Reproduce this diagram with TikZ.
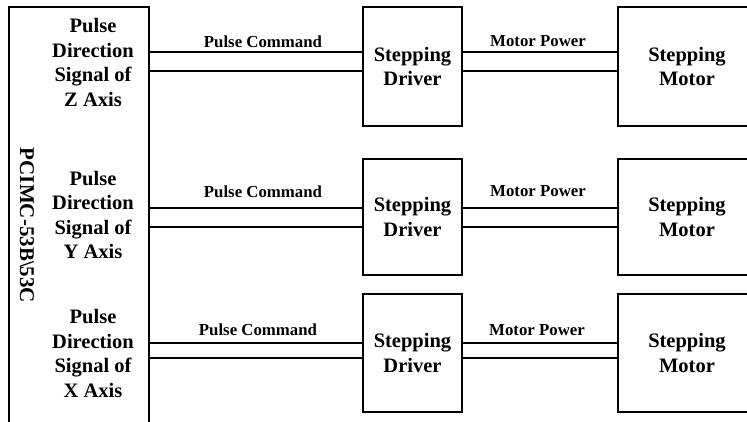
\documentclass[tikz,border=0pt]{standalone}
\usepackage{fontspec}
\setmainfont{Liberation Serif}
\begin{document}
\begin{tikzpicture}[x=1pt,y=-1pt,
  box/.style={draw,line width=1.9pt,rectangle,inner sep=0pt,align=center,
    font=\bfseries\fontsize{20.5}{24.5}\selectfont},
  txt/.style={align=center,inner sep=0pt,font=\bfseries\fontsize{20.5}{24.5}\selectfont},
  lbl/.style={inner sep=0pt,font=\bfseries\fontsize{16.8}{19}\selectfont},
  wire/.style={line width=1.9pt}]
\useasboundingbox (0,0) rectangle (747,421);
\clip (0,0) rectangle (747,421);
% left board
\node[box,minimum width=140pt,minimum height=440pt] (lb) at (79,227) {};
\node[txt,rotate=-90,font=\bfseries\fontsize{21}{24}\selectfont] (card) at (27,225.5) {PCIMC-53B\textbackslash 53C};
\node[txt] (z) at (93,62.5) {Pulse\\Direction\\Signal of\\Z Axis};
\node[txt] (y) at (93,215) {Pulse\\Direction\\Signal of\\Y Axis};
\node[txt] (xx) at (93,353.5) {Pulse\\Direction\\Signal of\\X Axis};
% drivers
\node[box,minimum width=99pt,minimum height=119pt] (d1) at (412.5,66.5) {Stepping\\Driver};
\node[box,minimum width=99pt,minimum height=116pt] (d2) at (412.5,217) {Stepping\\Driver};
\node[box,minimum width=99pt,minimum height=118pt] (d3) at (412.5,353) {Stepping\\Driver};
% motors
\node[box,minimum width=138pt,minimum height=119pt] (m1) at (687,66.5) {Stepping\\Motor};
\node[box,minimum width=138pt,minimum height=116pt] (m2) at (687,217) {Stepping\\Motor};
\node[box,minimum width=138pt,minimum height=118pt] (m3) at (687,353) {Stepping\\Motor};
% wire levels
\coordinate (a1) at (0,52); \coordinate (b1) at (0,71);
\coordinate (a2) at (0,208); \coordinate (b2) at (0,227);
\coordinate (a3) at (0,343); \coordinate (b3) at (0,358);
\foreach \i in {1,2,3}{
  \draw[wire] (lb.east |- a\i) -- (d\i.west |- a\i);
  \draw[wire] (lb.east |- b\i) -- (d\i.west |- b\i);
  \draw[wire] (d\i.east |- a\i) -- (m\i.west |- a\i);
  \draw[wire] (d\i.east |- b\i) -- (m\i.west |- b\i);
}
\node[lbl] (pc1) at (263,42) {Pulse Command};
\node[lbl] (pc2) at (263,192) {Pulse Command};
\node[lbl] (pc3) at (258,330) {Pulse Command};
\node[lbl] (mp1) at (538,41) {Motor Power};
\node[lbl] (mp2) at (538,191) {Motor Power};
\node[lbl] (mp3) at (537,330) {Motor Power};
\end{tikzpicture}
\end{document}
